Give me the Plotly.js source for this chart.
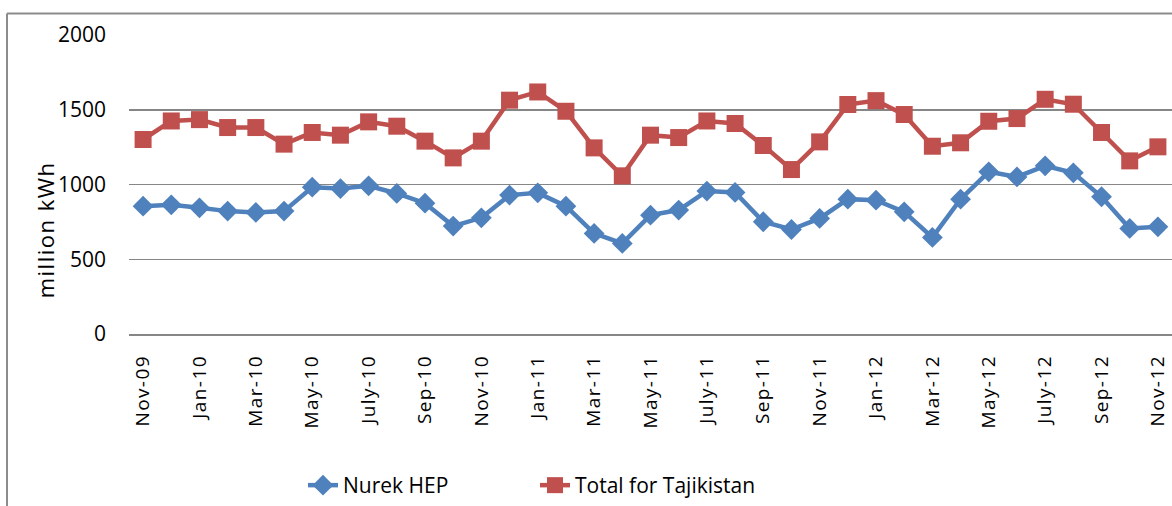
<!DOCTYPE html>
<html>
<head>
<meta charset="utf-8">
<script src="https://cdn.plot.ly/plotly-3.0.1.min.js"></script>
<style>
  html, body { margin: 0; padding: 0; background: #ffffff; }
  #chart { width: 1172px; height: 506px; }
  .xaxislayer-above .xtick text { letter-spacing: 1.4px; }
</style>
</head>
<body>
<div id="chart"></div>
<script>
const months = ["Nov-09","Dec-09","Jan-10","Feb-10","Mar-10","Apr-10","May-10","June-10","July-10","Aug-10","Sep-10","Oct-10",
                "Nov-10","Dec-10","Jan-11","Feb-11","Mar-11","Apr-11","May-11","June-11","July-11","Aug-11","Sep-11","Oct-11",
                "Nov-11","Dec-11","Jan-12","Feb-12","Mar-12","Apr-12","May-12","June-12","July-12","Aug-12","Sep-12","Oct-12","Nov-12"];
const tickLabels = ["Nov-09","Jan-10","Mar-10","May-10","July-10","Sep-10","Nov-10","Jan-11","Mar-11","May-11","July-11","Sep-11",
                    "Nov-11","Jan-12","Mar-12","May-12","July-12","Sep-12","Nov-12"];
const nurekHEP = [855, 864, 844, 822, 813, 822, 982, 973, 991, 940, 875, 722,
                  777, 929, 944, 855, 673, 606, 795, 829, 956, 947, 751, 699,
                  773, 902, 895, 817, 646, 902, 1085, 1051, 1125, 1078, 918, 706, 717];
const totalTajikistan = [1301, 1425, 1434, 1381, 1381, 1270, 1348, 1330, 1419, 1390, 1290, 1178,
                         1290, 1564, 1619, 1490, 1245, 1058, 1330, 1314, 1425, 1408, 1261, 1100,
                         1285, 1535, 1561, 1468, 1256, 1279, 1423, 1441, 1570, 1537, 1348, 1158, 1252];
const yTicks = [0, 500, 1000, 1500, 2000];

const traces = [
  {
    x: months, y: nurekHEP, name: "Nurek HEP", type: "scatter", mode: "lines+markers",
    line: { color: "#4F81BD", width: 4.5 },
    marker: { symbol: "diamond", size: 16, color: "#4F81BD" }
  },
  {
    x: months, y: totalTajikistan, name: "Total for Tajikistan", type: "scatter", mode: "lines+markers",
    line: { color: "#C0504D", width: 4.5 },
    marker: { symbol: "square", size: 17, color: "#C0504D" }
  }
];

const W = 1172, H = 506, L = 129, T = 35, B = 171;
const pw = W - L, ph = H - T - B;
const px2x = p => (p - L) / pw;
const px2y = p => (H - B - p) / ph;

const layout = {
  width: W, height: H,
  margin: { l: L, r: 0, t: T, b: B, pad: 0 },
  paper_bgcolor: "#ffffff", plot_bgcolor: "#ffffff",
  font: { family: "Open Sans, sans-serif", size: 21, color: "#000000" },
  showlegend: true,
  legend: {
    orientation: "h", x: px2x(303), xanchor: "left", y: px2y(487), yanchor: "middle",
    font: { family: "Open Sans, sans-serif", size: 21, color: "#000000" },
    entrywidth: 187, entrywidthmode: "pixels", bgcolor: "rgba(0,0,0,0)"
  },
  xaxis: {
    type: "category", range: [-0.5, 36.5], fixedrange: true,
    tickmode: "array", tickvals: tickLabels, ticktext: tickLabels,
    tickangle: -90, ticks: "", ticklabelstandoff: 12,
    tickfont: { family: "Open Sans, sans-serif", size: 19, color: "#000000" },
    showgrid: false, showline: true, linecolor: "#868686", linewidth: 1.5, zeroline: false
  },
  yaxis: {
    range: [0, 2000], fixedrange: true, tickmode: "array", tickvals: yTicks,
    ticks: "", ticklabelstandoff: 22,
    tickfont: { family: "Open Sans, sans-serif", size: 21, color: "#000000" },
    showgrid: true, gridcolor: "#868686", gridwidth: 1.5, zeroline: false, showline: false
  },
  annotations: [{
    text: "<span style=\"letter-spacing:1.5px\">million kWh</span>", xref: "paper", yref: "paper",
    x: px2x(45), y: px2y(231), xanchor: "center", yanchor: "middle",
    textangle: -90, showarrow: false,
    font: { family: "Open Sans, sans-serif", size: 22, color: "#000000" }
  }],
  shapes: [
    { type: "line", xref: "paper", yref: "paper", x0: px2x(7), x1: px2x(1180), y0: px2y(13.5), y1: px2y(13.5),
      line: { color: "#8C8C8C", width: 2 } },
    { type: "line", xref: "paper", yref: "paper", x0: px2x(7), x1: px2x(7), y0: px2y(13.5), y1: px2y(520),
      line: { color: "#8C8C8C", width: 2 } }
  ]
};

Plotly.newPlot("chart", traces, layout, { displayModeBar: false, staticPlot: true });
</script>
</body>
</html>
